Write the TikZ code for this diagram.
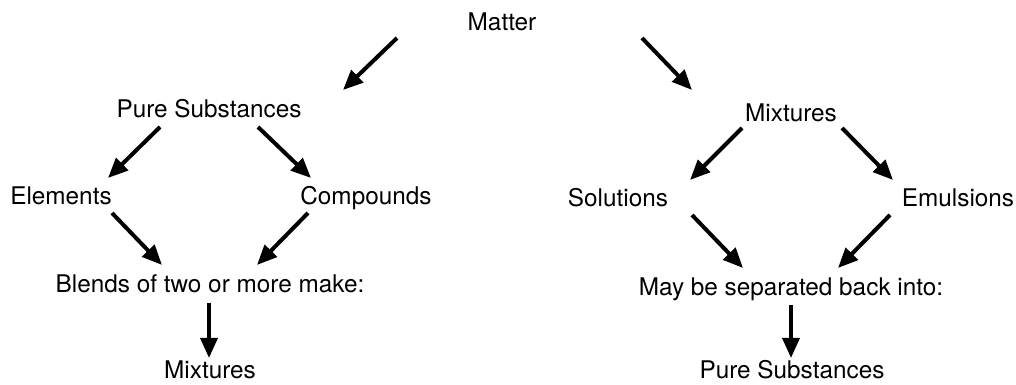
\documentclass[tikz,border=0pt]{standalone}
\usepackage{fontspec}
\setmainfont{TeX Gyre Heros}
\usetikzlibrary{arrows.meta}

\begin{document}
\begin{tikzpicture}[x=0.025cm,y=0.025cm,
    every node/.style={anchor=base,inner sep=0pt,font=\fontsize{17.3pt}{20pt}\selectfont},
    arr/.style={-{Triangle[length=0.5cm,width=0.42cm]},line width=0.1cm}]
    \useasboundingbox (0,0) rectangle (1016,385);

    % Define the positions of the nodes
    \node (matter) at (502,354) {Matter};

    \node (pure) at (209,267) {Pure Substances};
    \node (elem) at (61,180) {Elements};
    \node (comp) at (366,180) {Compounds};
    \node (blend) at (210,92) {Blends of two or more make:};
    \node (mixout) at (210,6) {Mixtures};

    \node (mix) at (791,263) {Mixtures};
    \node (sol) at (618,178) {Solutions};
    \node (emul) at (958,178) {Emulsions};
    \node (sep) at (791,89) {May be separated back into:};
    \node (pureout) at (792,6) {Pure Substances};

    % Draw the edges
    \draw[arr] ([shift={(-105,-7)}]matter.base) -- ([shift={(134,28)}]pure.base);
    \draw[arr] ([shift={(140,-7)}]matter.base) -- ([shift={(-99,32)}]mix.base);

    \draw[arr] ([shift={(-49,-9)}]pure.base) -- ([shift={(47,27)}]elem.base);
    \draw[arr] ([shift={(49,-9)}]pure.base) -- ([shift={(-55,27)}]comp.base);
    \draw[arr] ([shift={(51,-8)}]elem.base) -- ([shift={(-48,28)}]blend.base);
    \draw[arr] ([shift={(-58,-8)}]comp.base) -- ([shift={(47,28)}]blend.base);
    \draw[arr] ([shift={(-1,-10)}]blend.base) -- ([shift={(-1,21)}]mixout.base);

    \draw[arr] ([shift={(-49,-6)}]mix.base) -- ([shift={(72,27)}]sol.base);
    \draw[arr] ([shift={(51,-6)}]mix.base) -- ([shift={(-65,27)}]emul.base);
    \draw[arr] ([shift={(74,-8)}]sol.base) -- ([shift={(-48,28)}]sep.base);
    \draw[arr] ([shift={(-68,-8)}]emul.base) -- ([shift={(47,28)}]sep.base);
    \draw[arr] ([shift={(0,-9)}]sep.base) -- ([shift={(-1,21)}]pureout.base);
\end{tikzpicture}
\end{document}
